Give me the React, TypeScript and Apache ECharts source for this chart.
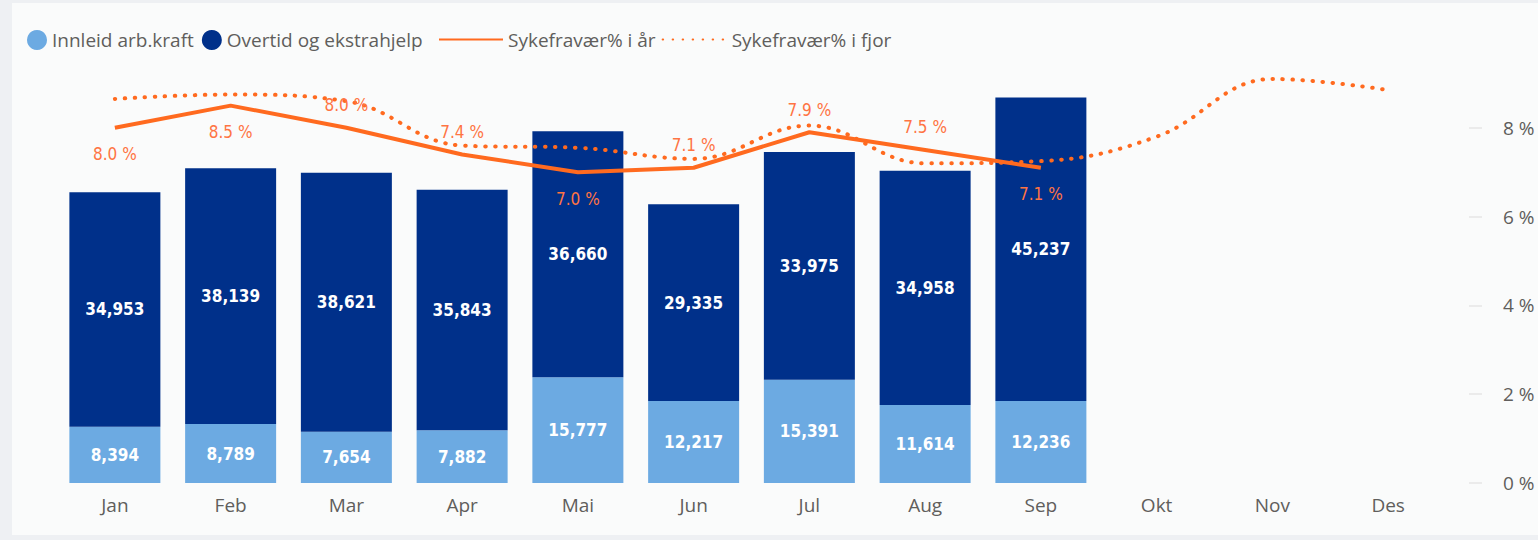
import React, { useEffect, useRef } from "react";
import * as echarts from "echarts";

const months = ["Jan", "Feb", "Mar", "Apr", "Mai", "Jun", "Jul", "Aug", "Sep", "Okt", "Nov", "Des"];
const innleid = [8394, 8789, 7654, 7882, 15777, 12217, 15391, 11614, 12236];
const overtid = [34953, 38139, 38621, 35843, 36660, 29335, 33975, 34958, 45237];
const sykIAar = [8.0, 8.5, 8.0, 7.4, 7.0, 7.1, 7.9, 7.5, 7.1];
const sykIAarLabelPos = ["bottom", "bottom", "top", "top", "bottom", "top", "top", "top", "bottom"];
const sykIFjor = [8.65, 8.75, 8.6, 7.6, 7.55, 7.3, 8.05, 7.2, 7.25, 7.8, 9.1, 8.85];
const pctTicks = [0, 2, 4, 6, 8];

const ORANGE = "#FF6A1F";
const LABEL_ORANGE = "#FF7443";
const LIGHT = "#6CAAE2";
const DARK = "#00308A";
const GRAY_TEXT = "#605E5C";
const NUM_FONT = "'DejaVu Sans Condensed', 'DejaVu Sans', sans-serif";
const UI_FONT = "'Open Sans', 'Noto Sans', sans-serif";

export default function App() {
  const ref = useRef<HTMLDivElement>(null);
  useEffect(() => {
    if (!ref.current) return;
    const chart = echarts.init(ref.current, null, { renderer: "svg" });
    const fmt = (v: number) => v.toLocaleString("en-US");
    chart.setOption({
      animation: false,
      backgroundColor: "#FAFBFB",
      legend: [
        {
          left: 10,
          top: 22,
          itemWidth: 20,
          itemHeight: 20,
          itemGap: 8,
          icon: "circle",
          textStyle: { color: GRAY_TEXT, fontSize: 19, fontFamily: UI_FONT },
          data: ["Innleid arb.kraft", "Overtid og ekstrahjelp"],
        },
        {
          left: 421,
          top: 22,
          itemWidth: 64,
          itemHeight: 20,
          itemGap: 6,
          itemStyle: { opacity: 0 },
          textStyle: { color: GRAY_TEXT, fontSize: 19, fontFamily: UI_FONT },
          data: ["Sykefravær% i år", "Sykefravær% i fjor"],
        },
      ],
      grid: { left: 45, right: 92, top: 36, bottom: 52, containLabel: false },
      xAxis: {
        type: "category",
        data: months,
        axisLine: { show: false },
        axisTick: { show: false },
        axisLabel: { color: GRAY_TEXT, fontSize: 19, fontFamily: UI_FONT, margin: 12 },
      },
      yAxis: [
        {
          type: "value",
          min: 0,
          max: 66200,
          show: false,
          splitLine: { show: false },
        },
        {
          type: "value",
          min: 0,
          max: 10,
          interval: 2,
          position: "right",
          offset: 23,
          axisLine: { show: false },
          axisTick: {
            show: true,
            length: 13,
            inside: false,
            customValues: pctTicks,
            lineStyle: { color: "#E6E6E6", width: 1.5 },
          },
          splitLine: { show: false },
          axisLabel: {
            color: GRAY_TEXT,
            fontSize: 19,
            fontFamily: UI_FONT,
            margin: 34,
            customValues: pctTicks,
            formatter: (v: number) => v + " %",
          },
        },
      ],
      series: [
        {
          name: "Innleid arb.kraft",
          type: "bar",
          stack: "a",
          barWidth: 91,
          itemStyle: { color: LIGHT },
          data: innleid,
          label: {
            show: true,
            position: "inside",
            color: "#FFFFFF",
            fontSize: 17,
            fontWeight: "bold",
            fontFamily: NUM_FONT,
            formatter: (p: any) => fmt(p.value),
          },
        },
        {
          name: "Overtid og ekstrahjelp",
          type: "bar",
          stack: "a",
          barWidth: 91,
          itemStyle: { color: DARK },
          data: overtid,
          label: {
            show: true,
            position: "inside",
            color: "#FFFFFF",
            fontSize: 17,
            fontWeight: "bold",
            fontFamily: NUM_FONT,
            formatter: (p: any) => fmt(p.value),
          },
        },
        {
          name: "Sykefravær% i fjor",
          type: "line",
          yAxisIndex: 1,
          smooth: 0.4,
          symbol: "none",
          z: 4,
          itemStyle: { color: ORANGE },
          lineStyle: { color: ORANGE, width: 4, type: [0.5, 9.5], cap: "round" },
          data: sykIFjor,
        },
        {
          name: "Sykefravær% i år",
          type: "line",
          yAxisIndex: 1,
          symbol: "circle",
          symbolSize: 0.1,
          showSymbol: true,
          z: 5,
          itemStyle: { color: ORANGE },
          lineStyle: { color: ORANGE, width: 4 },
          data: sykIAar.map((v, i) => ({
            value: v,
            label: {
              position: sykIAarLabelPos[i],
              distance: sykIAarLabelPos[i] === "bottom" ? 18 : 14,
            },
          })),
          label: {
            show: true,
            color: LABEL_ORANGE,
            fontSize: 17,
            fontFamily: NUM_FONT,
            formatter: (p: any) => p.value.toFixed(1) + " %",
          },
        },
      ],
    });
    return () => chart.dispose();
  }, []);
  return (
    <div style={{ position: "fixed", left: 0, top: 0, width: 1538, height: 540, background: "#EEF0F3" }}>
      <div ref={ref} style={{ position: "absolute", left: 12, top: 3, width: 1526, height: 532 }} />
    </div>
  );
}
